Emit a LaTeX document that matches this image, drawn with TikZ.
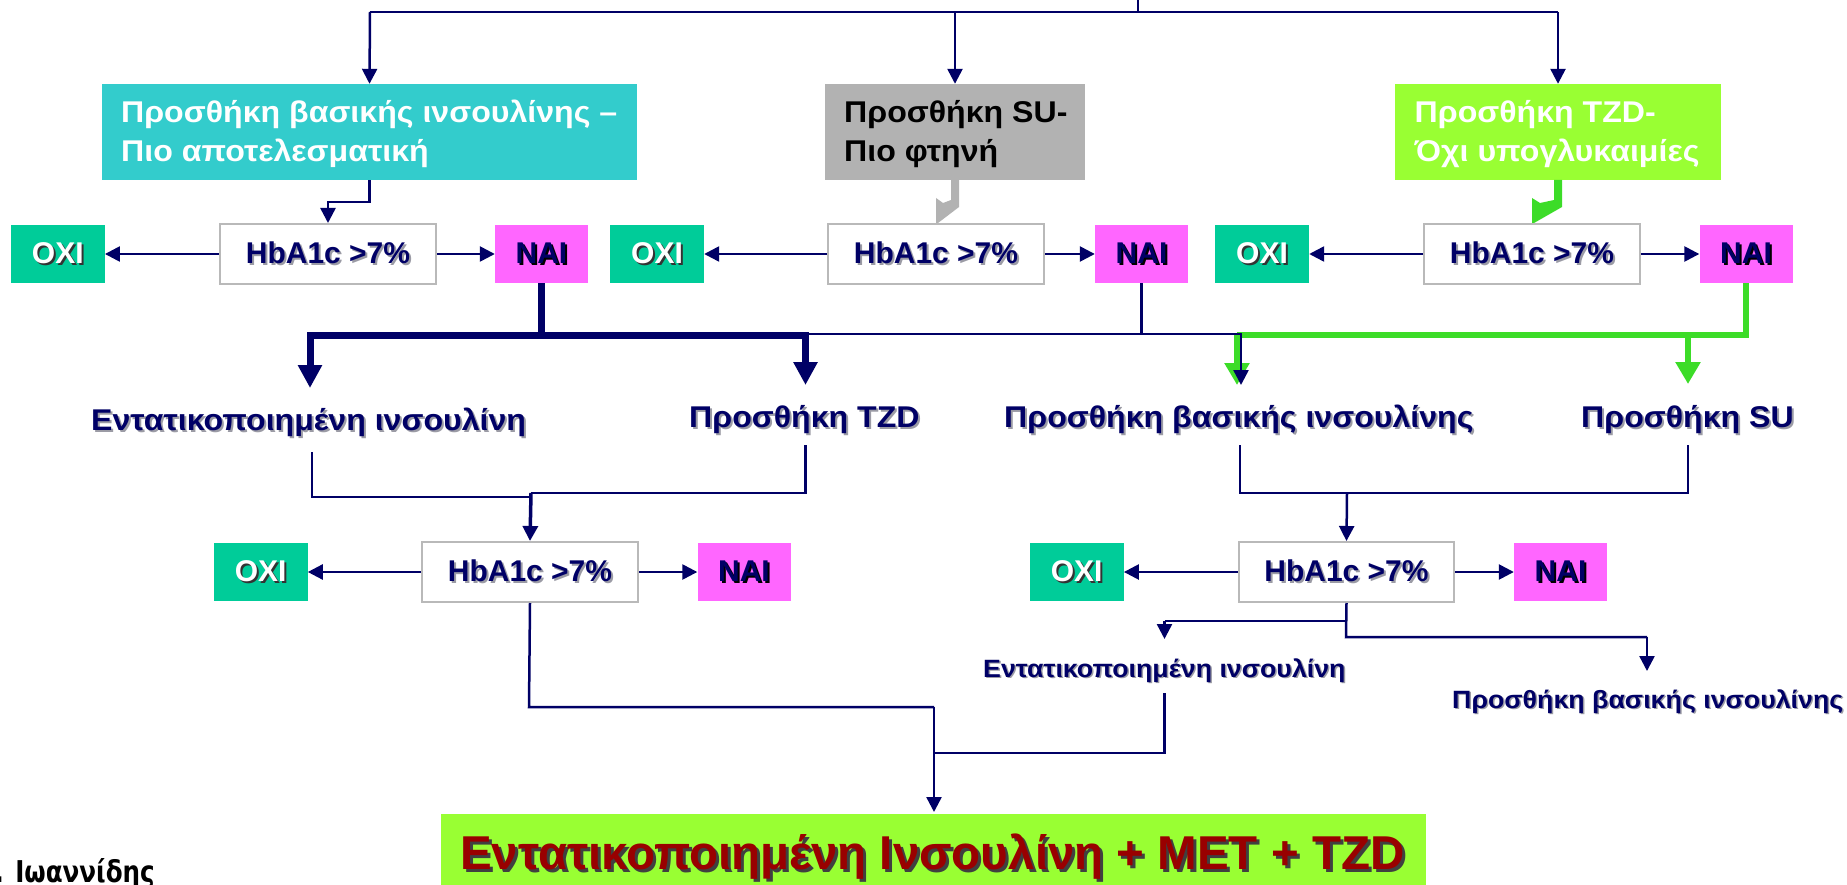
\documentclass[tikz,border=0pt]{standalone}
\usepackage{fontspec}
\setmainfont{Liberation Sans}
\newfontfamily\wfont[FakeStretch=1.07]{Liberation Sans}
\newfontfamily\dejavufont[FakeStretch=0.82]{DejaVu Sans}
\usetikzlibrary{arrows.meta}
\definecolor{navy}{RGB}{0,0,102}
\definecolor{cyanbox}{RGB}{51,204,204}
\definecolor{graybox}{RGB}{178,178,178}
\definecolor{limebox}{RGB}{153,255,51}
\definecolor{oxicol}{RGB}{0,204,153}
\definecolor{naicol}{RGB}{255,102,255}
\definecolor{glines}{RGB}{60,220,40}
\definecolor{darkred}{RGB}{153,0,0}
\definecolor{hbaborder}{RGB}{185,185,185}
\definecolor{shgray}{RGB}{155,155,165}
\newcommand\fsz[1]{\fontsize{#1}{#1}\selectfont}
\newcommand\shd[4][2pt]{\makebox[0pt][l]{\hspace*{#1}\raisebox{-#1}{\textcolor{#2}{#4}}}\textcolor{#3}{#4}}
\tikzset{
  conn/.style={navy, line width=2.5pt},
  arr/.style={conn, -{Triangle[length=15pt,width=15pt]}},
  thickarr/.style={navy, line width=7pt, -{Triangle[length=23pt,width=23pt]}},
  thickln/.style={navy, line width=7pt},
  garr/.style={glines, line width=6pt, -{Triangle[length=22pt,width=24pt]}},
  gln/.style={glines, line width=6pt},
  topbox/.style={minimum height=96pt, inner sep=0pt},
  boxtxt/.style={anchor=base west, inner sep=0pt, font=\wfont\fsz{30}\bfseries},
  hba/.style={draw=hbaborder, line width=2pt, fill=white, minimum width=216pt, minimum height=60pt, inner sep=0pt, font=\fsz{30}\bfseries},
  oxibox/.style={fill=oxicol, minimum width=94pt, minimum height=58pt, inner sep=0pt, font=\fsz{30}\bfseries},
  naibox/.style={fill=naicol, minimum width=93pt, minimum height=58pt, inner sep=0pt, font=\fsz{30}\bfseries},
  lbl/.style={anchor=base west, inner sep=0pt, font=\wfont\fsz{30}\bfseries},
  slbl/.style={anchor=base west, inner sep=0pt, font=\wfont\fsz{25}\bfseries},
}
\newcommand\hbt{\shd{shgray}{navy}{HbA1c >7\%}}
\newcommand\oxt{\shd{black!80}{white}{ΟΧΙ}}
\newcommand\nat{\shd{black}{navy}{ΝΑΙ}}
\begin{document}
\begin{tikzpicture}[x=1pt,y=-1pt]
\useasboundingbox (0,0) rectangle (1847,885);
\fill[white] (0,0) rectangle (1847,885);

% top boxes
\node[topbox, fill=cyanbox, minimum width=535pt] (b1) at (369.5,132) {};
\node[boxtxt, text=white] (b1a) at (121,123) {Προσθήκη βασικής ινσουλίνης –};
\node[boxtxt, text=white] (b1b) at (121,162) {Πιο αποτελεσματική};
\node[topbox, fill=graybox, minimum width=260pt] (b2) at (955,132) {};
\node[boxtxt, text=black] (b2a) at (844,123) {Προσθήκη SU-};
\node[boxtxt, text=black] (b2b) at (844,162) {Πιο φτηνή};
\node[topbox, fill=limebox, minimum width=326pt] (b3) at (1558,132) {};
\node[boxtxt, text=white] (b3a) at (1414.5,123) {Προσθήκη TZD-};
\node[boxtxt, text=white] (b3b) at (1414.5,162) {Όχι υπογλυκαιμίες};

% top connectors
\coordinate (stem) at (1138,0);
\coordinate (j0) at (1138,12);
\coordinate (jl) at (370,12);
\coordinate (jm) at (955,12);
\coordinate (jr) at (1558,12);
\draw[conn] (stem) -- (j0);
\draw[conn] (jl) -- (jr);
\draw[arr] (jl) -- (b1.north);
\draw[arr] (jm) -- (b2.north);
\draw[arr] (jr) -- (b3.north);

% row 2
\node[oxibox] (o1) at (57.75,254) {\oxt};
\node[hba] (h1) at (328,254) {\hbt};
\node[naibox] (n1) at (541.5,254) {\nat};
\node[oxibox] (o2) at (657,254) {\oxt};
\node[hba] (h2) at (936,254) {\hbt};
\node[naibox] (n2) at (1141.5,254) {\nat};
\node[oxibox] (o3) at (1262,254) {\oxt};
\node[hba] (h3) at (1532,254) {\hbt};
\node[naibox] (n3) at (1746,254) {\nat};

\draw[arr] (h1.west) -- (o1.east);
\draw[arr] (h1.east) -- (n1.west);
\draw[arr] (h2.west) -- (o2.east);
\draw[arr] (h2.east) -- (n2.west);
\draw[arr] (h3.west) -- (o3.east);
\draw[arr] (h3.east) -- (n3.west);

% box -> HbA connectors
\draw[arr] (b1.south) -- ++(0,22) -| (h1.north);
\fill[graybox] (951,180) -- (959,180) -- (959,207) -- (938,223) -- (936,223) -- (936,198) -- (943,203) -- (951,200) -- cycle;
\fill[glines] (1554,180) -- (1562,180) -- (1562,207) -- (1534,223) -- (1532,223) -- (1532,198) -- (1540,203) -- (1554,200) -- cycle;

% row 3 labels
\node[lbl] (l1) at (91,430) {\shd{shgray}{navy}{Εντατικοποιημένη ινσουλίνη}};
\node[lbl] (l2) at (689,427) {\shd{shgray}{navy}{Προσθήκη TZD}};
\node[lbl] (l3) at (1004,427) {\shd{shgray}{navy}{Προσθήκη βασικής ινσουλίνης}};
\node[lbl] (l4) at (1581,427) {\shd{shgray}{navy}{Προσθήκη SU}};

% NAI connectors
\coordinate (ta) at (310,388);
\coordinate (tb) at (805.5,385);
\coordinate (tc) at (1241,385);
\coordinate (tg1) at (1237,385);
\coordinate (tg2) at (1688,384);
\draw[thickarr] (n1.south) -- (541.5,335) -- (310,335) -- (ta);
\draw[thickarr] (541.5,335) -- (805.5,335) -- (tb);
\draw[gln] (n3.south) -- (1746,335) -- (1237,335);
\draw[garr] (1237,335) -- (tg1);
\draw[garr] (1688,335) -- (tg2);
\draw[conn] (n2.south) -- (1141.5,334);
\draw[conn] (808,334) -- (1241,334);
\draw[arr] (1241,333) -- (tc);

% row 4
\node[oxibox] (o4) at (260.6,572) {\oxt};
\node[hba] (h4) at (530,572) {\hbt};
\node[naibox] (n4) at (744,572) {\nat};
\node[oxibox] (o5) at (1076.7,572) {\oxt};
\node[hba, minimum width=215pt] (h5) at (1346.5,572) {\hbt};
\node[naibox] (n5) at (1560.5,572) {\nat};
\draw[arr] (h4.west) -- (o4.east);
\draw[arr] (h4.east) -- (n4.west);
\draw[arr] (h5.west) -- (o5.east);
\draw[arr] (h5.east) -- (n5.west);

% label -> HbA connectors
\coordinate (s1) at (312,452);
\coordinate (s2) at (805.5,445);
\coordinate (s3) at (1240,445);
\coordinate (s4) at (1688,445);
\draw[conn] (s1) |- (531,497);
\draw[conn] (s2) |- (531,493);
\draw[arr, line width=3.5pt] (531,493) -- (h4.north);
\draw[conn] (s3) |- (1688,493) -- (s4);
\draw[arr] (1347,493) -- (h5.north);

% small labels
\node[slbl] (m1) at (983,677) {\shd[1.5pt]{shgray}{navy}{Εντατικοποιημένη ινσουλίνη}};
\node[slbl] (m2) at (1452,708) {\shd[1.5pt]{shgray}{navy}{Προσθήκη βασικής ινσουλίνης}};
\coordinate (tm1) at (1164.5,639);
\coordinate (tm2) at (1647,671);
\draw[conn] (h5.south) -- (1346,637) -- (1647,637);
\draw[arr] (1647,637) -- (tm2);
\draw[conn] (1346,621) -- (1164.5,621);
\draw[arr] (1164.5,621) -- (tm1);

% final box
\node[fill=limebox, minimum width=985pt, minimum height=80pt, inner sep=0pt] (fin) at (933.5,854) {};
\node[anchor=base west, inner sep=0pt, font=\fsz{47.5}\bfseries] (fint) at (460,869) {\shd[3pt]{black!75}{darkred}{Εντατικοποιημένη Ινσουλίνη + MET + TZD}};
\coordinate (s5) at (1164.5,693);
\coordinate (tf) at (934,812);
\draw[conn] (h4.south) -- (529,707) -- (934,707);
\draw[arr] (934,707) -- (tf);
\draw[conn] (s5) -- (1164.5,753) -- (934,753);

% author
\node[anchor=base east, inner sep=0pt, font=\dejavufont\fsz{30}\bfseries, text=black] (auth) at (155,882) {. Ιωαννίδης};
\end{tikzpicture}
\end{document}
